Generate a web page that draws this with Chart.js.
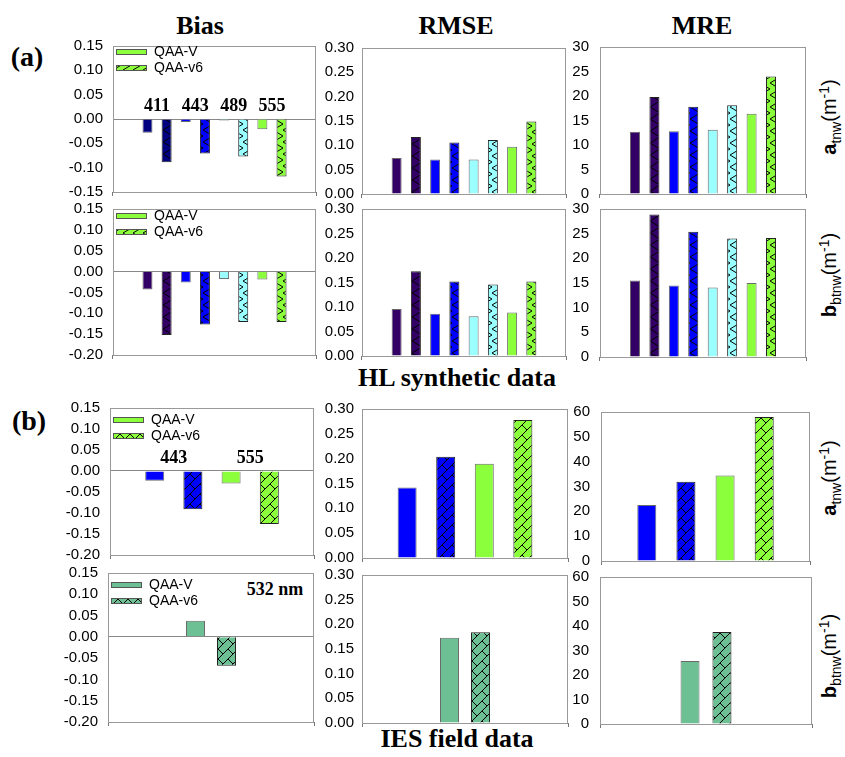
<!DOCTYPE html>
<html>
<head>
<meta charset="utf-8">
<script src="https://cdn.jsdelivr.net/npm/chart.js@4.4.1/dist/chart.umd.min.js"></script>
<style>
body { margin: 0; background: #fff; }
#fig { position: relative; width: 845px; height: 757px; overflow: hidden; }
canvas { position: absolute; }
.t { position: absolute; white-space: nowrap; font-family: 'Liberation Serif', 'Times New Roman', serif; font-weight: bold; color: #000; line-height: 1; transform: translateX(-50%); }
.r { position: absolute; white-space: nowrap; font-family: 'Liberation Sans', Arial, sans-serif; font-size: 20px; color: #000; line-height: 1; transform: translate(-50%, -50%) rotate(-90deg); }
.r sub, .r sup { font-size: 14px; }
</style>
</head>
<body>
<div id="fig">
  <div class="t" style="left:200px;top:13px;font-size:26px">Bias</div>
  <div class="t" style="left:456px;top:13px;font-size:26px">RMSE</div>
  <div class="t" style="left:702px;top:13px;font-size:26px">MRE</div>
  <div class="t" style="left:27px;top:43px;font-size:28px">(a)</div>
  <div class="t" style="left:29px;top:407px;font-size:28px">(b)</div>
  <div class="t" style="left:457px;top:365px;font-size:26px">HL synthetic data</div>
  <div class="t" style="left:457px;top:726px;font-size:26px">IES field data</div>
  <div class="t" style="left:275px;top:580px;font-size:18px">532 nm</div>
  <div class="r" style="left:830px;top:117px"><b>a</b><sub>tnw</sub>(m<sup>-1</sup>)</div>
  <div class="r" style="left:830px;top:275px"><b>b</b><sub>btnw</sub>(m<sup>-1</sup>)</div>
  <div class="r" style="left:830px;top:478px"><b>a</b><sub>tnw</sub>(m<sup>-1</sup>)</div>
  <div class="r" style="left:830px;top:656px"><b>b</b><sub>btnw</sub>(m<sup>-1</sup>)</div>
</div>
<script>
// wavelengths (nm)
const bandsHL = ['411', '443', '489', '555'];
const bandsIES = ['443', '555'];
const bandsIES2 = ['532'];

// HL synthetic data, a_tnw
const hlA_biasV  = [-0.028, -0.006, -0.003, -0.021];
const hlA_biasV6 = [-0.089, -0.071, -0.077, -0.118];
const hlA_rmseV  = [0.074, 0.071, 0.071, 0.097];
const hlA_rmseV6 = [0.117, 0.106, 0.111, 0.149];
const hlA_mreV   = [12.7, 12.8, 13.1, 16.4];
const hlA_mreV6  = [19.8, 17.8, 18.1, 24.0];

// HL synthetic data, b_btnw
const hlB_biasV  = [-0.043, -0.026, -0.018, -0.019];
const hlB_biasV6 = [-0.152, -0.127, -0.121, -0.121];
const hlB_rmseV  = [0.096, 0.086, 0.081, 0.089];
const hlB_rmseV6 = [0.173, 0.152, 0.146, 0.152];
const hlB_mreV   = [15.5, 14.5, 14.1, 15.0];
const hlB_mreV6  = [28.9, 25.4, 24.0, 24.1];

// IES field data, a_tnw
const iesA_biasV  = [-0.023, -0.030];
const iesA_biasV6 = [-0.091, -0.126];
const iesA_rmseV  = [0.142, 0.190];
const iesA_rmseV6 = [0.204, 0.278];
const iesA_mreV   = [22.6, 34.4];
const iesA_mreV6  = [31.9, 58.0];

// IES field data, b_btnw (532 nm)
const iesB_biasV  = [0.038];
const iesB_biasV6 = [-0.068];
const iesB_rmseV  = [0.173];
const iesB_rmseV6 = [0.184];
const iesB_mreV   = [25.7];
const iesB_mreV6  = [37.6];

// y tick labels
const biasTicksA = [-0.15, -0.10, -0.05, 0.00, 0.05, 0.10, 0.15];
const biasTicks  = [-0.20, -0.15, -0.10, -0.05, 0.00, 0.05, 0.10, 0.15];
const rmseTicks  = [0.00, 0.05, 0.10, 0.15, 0.20, 0.25, 0.30];
const mreTicksHL = [0, 5, 10, 15, 20, 25, 30];
const mreTicksIES = [0, 10, 20, 30, 40, 50, 60];

const colorsBiasA = ['#000080', '#0000FF', '#99FFFF', '#8CFF3C'];
const colorsHL = ['#330066', '#0000FF', '#99FFFF', '#8CFF3C'];
const colorsIES = ['#0000FF', '#8CFF3C'];
const colorsIES2 = ['#6CC093'];

const SANS = "'Liberation Sans', Arial, sans-serif";
const SERIF = "'Liberation Serif', 'Times New Roman', serif";
const fig = document.getElementById('fig');

function hatch(color, kind) {
  const c = document.createElement('canvas');
  const g = c.getContext('2d');
  if (kind === 'brick') {
    c.width = 20; c.height = 20;
  } else {
    c.width = 10; c.height = 12;
  }
  g.fillStyle = color;
  g.fillRect(0, 0, c.width, c.height);
  g.strokeStyle = '#000';
  g.lineWidth = 1;
  g.beginPath();
  if (kind === 'brick') {
    // long "/" lines and short "\" joints
    g.moveTo(0, 10); g.lineTo(10, 0);
    g.moveTo(0, 20); g.lineTo(20, 0);
    g.moveTo(10, 20); g.lineTo(20, 10);
    g.moveTo(0, 0); g.lineTo(5, 5);
    g.moveTo(10, 0); g.lineTo(15, 5);
    g.moveTo(0, 10); g.lineTo(5, 15);
    g.moveTo(10, 10); g.lineTo(15, 15);
  } else {
    // zigzag
    g.moveTo(0, 0); g.lineTo(10, 6); g.lineTo(0, 12);
  }
  g.stroke();
  return g.createPattern(c, 'repeat');
}

// box around the plot area
const framePlugin = {
  id: 'frame',
  afterDatasetsDraw(chart) {
    const { ctx, chartArea: a } = chart;
    ctx.save();
    ctx.strokeStyle = '#999';
    ctx.lineWidth = 1;
    ctx.strokeRect(Math.round(a.left) + 0.5, Math.round(a.top) + 0.5,
      Math.round(a.right - a.left) - 1, Math.round(a.bottom - a.top));
    ctx.restore();
  }
};

// legend drawn inside the plot area
const legendPlugin = {
  id: 'inLegend',
  afterDatasetsDraw(chart, args, o) {
    if (!o.show) return;
    const { ctx, chartArea: a } = chart;
    ctx.save();
    ctx.font = '14px ' + SANS;
    ctx.textBaseline = 'middle';
    chart.data.datasets.forEach((ds, i) => {
      const y = Math.round(a.top + o.top + i * 16);
      ctx.fillStyle = ds.legendFill;
      ctx.fillRect(a.left + 3, y - 2, 31, 5);
      ctx.strokeStyle = '#555';
      ctx.lineWidth = 1;
      ctx.strokeRect(a.left + 3.5, y - 2.5, 30, 5);
      ctx.fillStyle = '#000';
      ctx.fillText(ds.label, a.left + 41, y);
    });
    ctx.restore();
  }
};

// wavelength labels above each pair of bars
const bandPlugin = {
  id: 'bandLabels',
  afterDatasetsDraw(chart, args, o) {
    if (!o.labels) return;
    const { ctx } = chart;
    const xs = chart.scales.x, ys = chart.scales.y;
    ctx.save();
    ctx.font = 'bold 18px ' + SERIF;
    ctx.textAlign = 'center';
    ctx.textBaseline = 'middle';
    ctx.fillStyle = '#000';
    o.labels.forEach((t, i) => {
      ctx.fillText(t, xs.getPixelForValue(2 * i + 0.5), ys.getPixelForValue(0) - 13);
    });
    ctx.restore();
  }
};

function fmt2(v) {
  return Math.abs(v) < 1e-9 ? '0.00' : v.toFixed(2);
}

const PAD_V = 24; // room above and below the plot area inside each canvas

function drawPanel(rect, p) {
  const [L, T, R, B] = rect;
  const cv = document.createElement('canvas');
  const w = R - L + 66, h = B - T + 2 * PAD_V;
  cv.width = w; cv.height = h;
  cv.style.left = (L - 60) + 'px';
  cv.style.top = (T - PAD_V) + 'px';
  fig.appendChild(cv);

  const n = p.v.length * 2;
  const last = p.colors[p.colors.length - 1];
  const ticks = p.ticks;

  new Chart(cv, {
    type: 'bar',
    data: {
      datasets: [
        {
          label: 'QAA-V',
          data: p.v.map((y, i) => ({ x: 2 * i, y: y })),
          backgroundColor: p.colors,
          borderColor: '#6a6a6a',
          borderWidth: 1,
          legendFill: last
        },
        {
          label: 'QAA-v6',
          data: p.v6.map((y, i) => ({ x: 2 * i + 1, y: y })),
          backgroundColor: p.colors.map(c => hatch(c, p.hatch)),
          borderColor: '#222',
          borderWidth: 1,
          legendFill: hatch(last, p.hatch)
        }
      ]
    },
    options: {
      responsive: false,
      animation: false,
      devicePixelRatio: 1,
      grouped: false,
      maxBarThickness: p.thick,
      layout: { padding: { left: 0, right: 6, top: PAD_V, bottom: 0 } },
      plugins: {
        legend: { display: false },
        tooltip: { enabled: false },
        inLegend: { show: !!p.legendTop, top: p.legendTop || 0 },
        bandLabels: { labels: p.bands || null }
      },
      scales: {
        x: {
          type: 'linear',
          offset: false,
          min: -p.margin,
          max: n - 1 + p.margin,
          afterBuildTicks: s => { s.ticks = [{ value: (n - 1) / 2 }]; },
          afterFit: s => { s.height = PAD_V; },
          ticks: { display: false },
          grid: { drawOnChartArea: false, drawTicks: true, tickLength: 4, color: '#777' },
          border: { display: false }
        },
        y: {
          min: ticks[0],
          max: ticks[ticks.length - 1],
          afterBuildTicks: s => { s.ticks = ticks.map(v => ({ value: v })); },
          afterFit: s => { s.width = 60; },
          ticks: {
            autoSkip: false,
            padding: p.pad,
            color: '#000',
            font: { family: SANS, size: 15 },
            callback: v => p.int ? String(Math.round(v)) : fmt2(v)
          },
          grid: {
            drawTicks: false,
            color: c => (c.tick && Math.abs(c.tick.value) < 1e-9) ? '#888' : 'rgba(0,0,0,0)'
          },
          border: { display: false }
        }
      }
    },
    plugins: [framePlugin, legendPlugin, bandPlugin]
  });
}

// plot area rectangles [left, top, right, bottom]
const rects = [
  [[113, 46, 316, 192], [362, 48, 566, 194], [600, 47, 806, 194]],
  [[113, 209, 316, 355], [362, 209, 566, 356], [600, 209, 806, 357]],
  [[110, 408, 314, 555], [362, 409, 568, 558], [601, 412, 810, 561]],
  [[108, 573, 314, 722], [362, 575, 568, 723], [600, 577, 812, 724]]
];

const hl = { hatch: 'zig', thick: 10, margin: 1.8 };
const ies = { hatch: 'brick', thick: 19, margin: 1.17 };
const ies2 = { hatch: 'brick', thick: 19, margin: 2.82 };

drawPanel(rects[0][0], Object.assign({ v: hlA_biasV, v6: hlA_biasV6, colors: colorsBiasA, ticks: biasTicksA, pad: 10, legendTop: 6, bands: bandsHL }, hl));
drawPanel(rects[0][1], Object.assign({ v: hlA_rmseV, v6: hlA_rmseV6, colors: colorsHL, ticks: rmseTicks, pad: 8 }, hl));
drawPanel(rects[0][2], Object.assign({ v: hlA_mreV, v6: hlA_mreV6, colors: colorsHL, ticks: mreTicksHL, pad: 11, int: true }, hl));

drawPanel(rects[1][0], Object.assign({ v: hlB_biasV, v6: hlB_biasV6, colors: colorsHL, ticks: biasTicks, pad: 10, legendTop: 7 }, hl));
drawPanel(rects[1][1], Object.assign({ v: hlB_rmseV, v6: hlB_rmseV6, colors: colorsHL, ticks: rmseTicks, pad: 8 }, hl));
drawPanel(rects[1][2], Object.assign({ v: hlB_mreV, v6: hlB_mreV6, colors: colorsHL, ticks: mreTicksHL, pad: 11, int: true }, hl));

drawPanel(rects[2][0], Object.assign({ v: iesA_biasV, v6: iesA_biasV6, colors: colorsIES, ticks: biasTicks, pad: 10, legendTop: 12, bands: bandsIES }, ies));
drawPanel(rects[2][1], Object.assign({ v: iesA_rmseV, v6: iesA_rmseV6, colors: colorsIES, ticks: rmseTicks, pad: 8 }, ies));
drawPanel(rects[2][2], Object.assign({ v: iesA_mreV, v6: iesA_mreV6, colors: colorsIES, ticks: mreTicksIES, pad: 11, int: true }, ies));

drawPanel(rects[3][0], Object.assign({ v: iesB_biasV, v6: iesB_biasV6, colors: colorsIES2, ticks: biasTicks, pad: 10, legendTop: 12 }, ies2));
drawPanel(rects[3][1], Object.assign({ v: iesB_rmseV, v6: iesB_rmseV6, colors: colorsIES2, ticks: rmseTicks, pad: 8 }, ies2));
drawPanel(rects[3][2], Object.assign({ v: iesB_mreV, v6: iesB_mreV6, colors: colorsIES2, ticks: mreTicksIES, pad: 11, int: true }, ies2));
</script>
</body>
</html>
